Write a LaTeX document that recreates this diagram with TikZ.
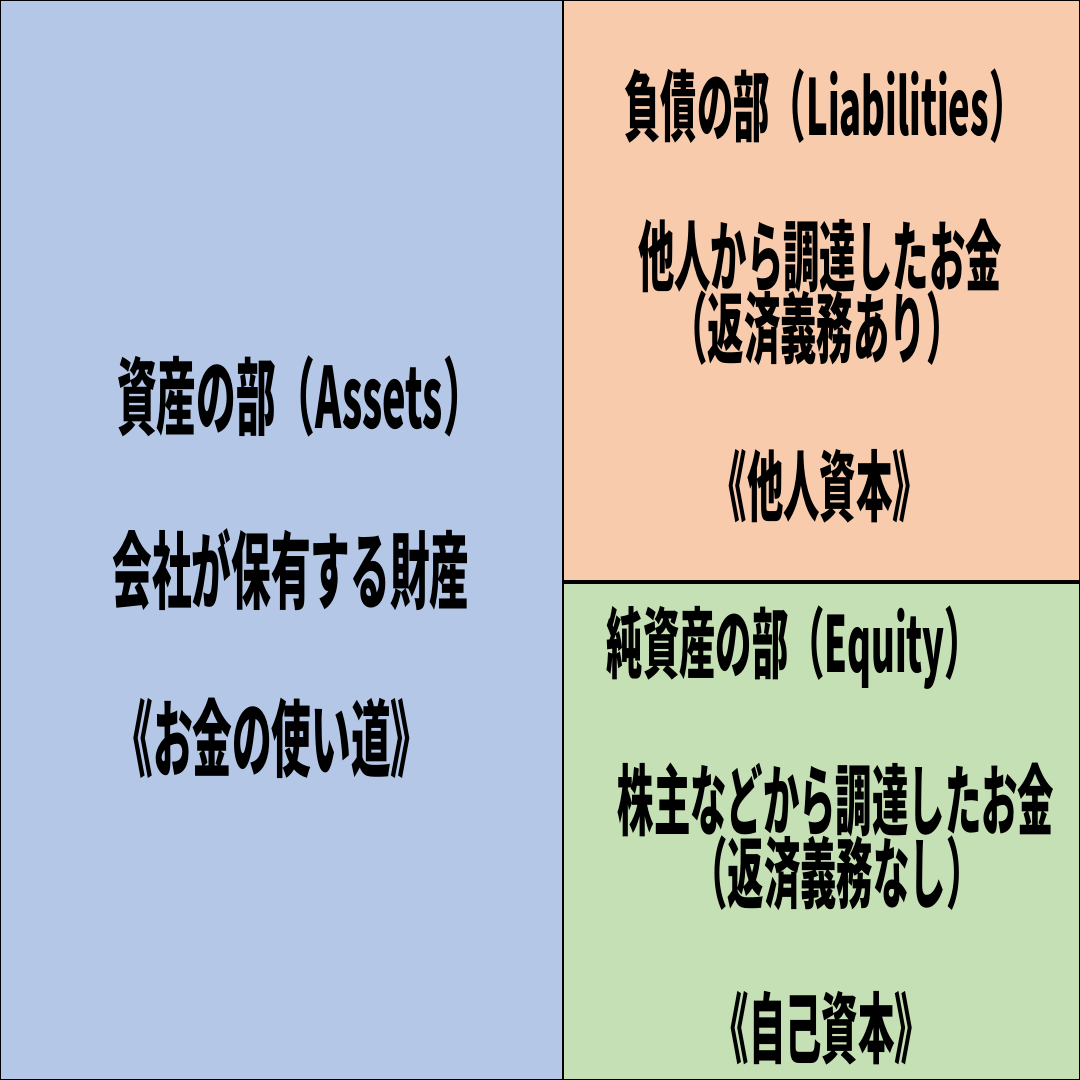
\documentclass[tikz,border=0pt]{standalone}
\usepackage{fontspec}
\usepackage{tikz}
\newfontfamily\jpfont{Noto Sans CJK JP}[FakeStretch=0.47]
\definecolor{assetblue}{HTML}{B4C7E7}
\definecolor{debtorange}{HTML}{F8CBAD}
\definecolor{equitygreen}{HTML}{C5E0B4}

\begin{document}
\begin{tikzpicture}[x=0.1mm,y=-0.1mm]
        \useasboundingbox (0,0) rectangle (1080,1080);

        \begin{scope}[line width=.6pt]
          \filldraw[fill=assetblue]   (0,0)     rectangle (563,1080);
          \filldraw[fill=debtorange]  (563,0)   rectangle (1080,582);
          \filldraw[fill=equitygreen] (563,582) rectangle (1080,1080);
          \draw[line width=1.2pt] (563,582) -- (1080,582);
        \end{scope}

        \begin{scope}[every node/.style={font=\jpfont\bfseries\fontsize{24}{28}\selectfont, inner sep=0pt, transform shape}]
          \node (a1) at (300,396)  {資産の部（Assets）};
          \node (a2) at (291,570)  {会社が保有する財産};
          \node (a3) at (272,738)  {《お金の使い道》};
        \end{scope}

        \begin{scope}[every node/.style={font=\jpfont\bfseries\fontsize{22}{26}\selectfont, inner sep=0pt, transform shape}]
          \node (l1) at (825,106)  {負債の部（Liabilities）};
          \node (l2) at (820,256)  {他人から調達したお金};
          \node (l3) at (817,328)  {（返済義務あり）};
          \node (l4) at (820,486)  {《他人資本》};

          \node (e1) at (794,648)  {純資産の部（Equity）};
          \node (e2) at (836,800)  {株主などから調達したお金};
          \node (e3) at (837,873)  {（返済義務なし）};
          \node (e4) at (822,1028) {《自己資本》};
        \end{scope}

      \end{tikzpicture}
\end{document}
